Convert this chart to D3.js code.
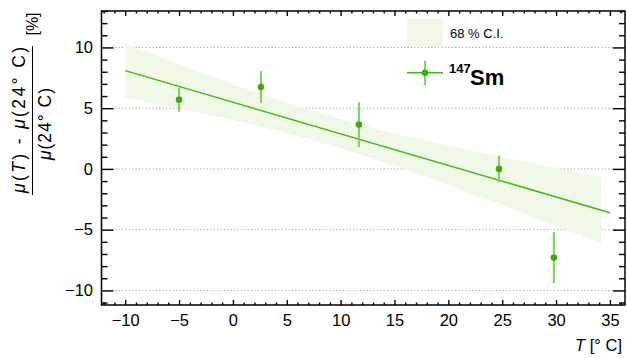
<!DOCTYPE html>
<html>
<head>
<meta charset="utf-8">
<script src="https://cdn.jsdelivr.net/npm/d3@7"></script>
<style>
  body { margin: 0; background: #fff; }
  svg { display: block; font-family: "Liberation Sans", Arial, sans-serif; }
</style>
</head>
<body>
<div class="plot"></div>
<script>
// measured points: temperature (deg C), relative shift (%), error (%)
const tempC = [-5.0, 2.6, 11.7, 24.7, 29.8];
const relShift = [5.7, 6.75, 3.65, 0.0, -7.3];
const relErr = [1.0, 1.3, 1.85, 1.1, 2.1];

// linear fit, end points
const fitX = [-10, 35];
const fitY = [8.09, -3.61];

// 68 % confidence band
const bandX = [-10, -5, 0, 5, 10, 15, 20, 25, 30, 34.2];
const bandLo = [5.88, 4.97, 4.01, 2.93, 1.69, 0.26, -1.32, -2.98, -4.69, -6.14];
const bandHi = [10.3, 8.61, 6.97, 5.45, 4.09, 2.92, 1.9, 0.96, 0.07, -0.66];

const xTickValues = [-10, -5, 0, 5, 10, 15, 20, 25, 30, 35];
const yTickValues = [-10, -5, 0, 5, 10];

const width = 627;
const height = 358;
const padL = 101.5, padR = 625, padT = 11, padB = 305;

const lineColor = "#46b814";
const pointColor = "#3aad0c";
const errColor = "#88d06a";
const bandColor = "#f0f9e7";
const fontSize = 16.5;

const svg = d3
  .select(".plot")
  .append("svg")
  .attr("width", width)
  .attr("height", height);

const x = d3.scaleLinear().domain([-12.2, 36.4]).range([padL, padR]);
const y = d3.scaleLinear().domain([-11.2, 13]).range([padB, padT]);

// dotted horizontal grid
svg
  .selectAll("line.grid")
  .data(yTickValues)
  .enter()
  .append("line")
  .attr("class", "grid")
  .attr("x1", padL)
  .attr("x2", padR)
  .attr("y1", (d) => y(d))
  .attr("y2", (d) => y(d))
  .attr("stroke", "#a0a0a0")
  .attr("stroke-width", 1)
  .attr("stroke-dasharray", "1.2,2.2");

// confidence band
const band = bandX.map((d, i) => ({ x: d, lo: bandLo[i], hi: bandHi[i] }));
svg
  .append("path")
  .datum(band)
  .attr("fill", bandColor)
  .attr("d", d3.area().x((d) => x(d.x)).y0((d) => y(d.lo)).y1((d) => y(d.hi)));

// fit line
svg
  .append("path")
  .datum(fitX.map((d, i) => [d, fitY[i]]))
  .attr("fill", "none")
  .attr("stroke", lineColor)
  .attr("stroke-width", 1.5)
  .attr("d", d3.line().x((d) => x(d[0])).y((d) => y(d[1])));

// data points with error bars
const pts = tempC.map((d, i) => ({ t: d, v: relShift[i], e: relErr[i] }));
svg
  .selectAll("line.err")
  .data(pts)
  .enter()
  .append("line")
  .attr("class", "err")
  .attr("x1", (d) => x(d.t))
  .attr("x2", (d) => x(d.t))
  .attr("y1", (d) => y(d.v - d.e))
  .attr("y2", (d) => y(d.v + d.e))
  .attr("stroke", errColor)
  .attr("stroke-width", 2.2);

svg
  .selectAll("circle.pt")
  .data(pts)
  .enter()
  .append("circle")
  .attr("class", "pt")
  .attr("cx", (d) => x(d.t))
  .attr("cy", (d) => y(d.v))
  .attr("r", 3.3)
  .attr("fill", pointColor);

// axes: major + minor ticks on all four sides, pointing inward
const xMinor = d3.range(-12, 37, 1).filter((d) => d % 5 !== 0);
const yMinor = d3.range(-11, 14, 1).filter((d) => d % 5 !== 0);

function addAxis(axis, tx, ty, labels) {
  const g = svg.append("g").attr("transform", `translate(${tx},${ty})`).call(axis);
  g.select(".domain").remove();
  g.selectAll(".tick line").attr("stroke", "#000").attr("stroke-width", 1.4);
  if (labels) {
    g.selectAll(".tick text").attr("font-size", fontSize).attr("fill", "#000")
      .attr("font-family", "Liberation Sans, Arial, sans-serif");
  } else {
    g.selectAll(".tick text").remove();
  }
  return g;
}

const fmt = (d) => (d < 0 ? "\u2212" + Math.abs(d) : String(d));

addAxis(d3.axisBottom(x).tickValues(xTickValues).tickSize(-5).tickSizeOuter(0).tickPadding(8.8).tickFormat(fmt), 0, padB, true);
addAxis(d3.axisBottom(x).tickValues(xMinor).tickSize(-2.5).tickSizeOuter(0), 0, padB, false);
addAxis(d3.axisTop(x).tickValues(xTickValues).tickSize(-5).tickSizeOuter(0), 0, padT, false);
addAxis(d3.axisTop(x).tickValues(xMinor).tickSize(-2.5).tickSizeOuter(0), 0, padT, false);

addAxis(d3.axisLeft(y).tickValues(yTickValues).tickSize(-12).tickSizeOuter(0).tickPadding(8.5).tickFormat(fmt), padL, 0, true);
addAxis(d3.axisLeft(y).tickValues(yMinor).tickSize(-6).tickSizeOuter(0), padL, 0, false);
addAxis(d3.axisRight(y).tickValues(yTickValues).tickSize(-12).tickSizeOuter(0), padR, 0, false);
addAxis(d3.axisRight(y).tickValues(yMinor).tickSize(-6).tickSizeOuter(0), padR, 0, false);

// frame
svg
  .append("rect")
  .attr("x", padL)
  .attr("y", padT)
  .attr("width", padR - padL)
  .attr("height", padB - padT)
  .attr("fill", "none")
  .attr("stroke", "#000")
  .attr("stroke-width", 1.5);

// x title
const xt = svg
  .append("text")
  .attr("x", padR - 3)
  .attr("y", 351)
  .attr("text-anchor", "end")
  .attr("font-size", fontSize);
xt.append("tspan").attr("font-style", "italic").text("T");
xt.append("tspan").text(" [\u00b0 C]");

// y title as a rotated fraction
const num = svg
  .append("text")
  .attr("transform", "translate(25,120) rotate(-90)")
  .attr("text-anchor", "middle")
  .attr("font-size", 17.5)
  .attr("textLength", 146)
  .attr("lengthAdjust", "spacing");
num.append("tspan").attr("font-style", "italic").text("\u03bc");
num.append("tspan").text("(");
num.append("tspan").attr("font-style", "italic").text("T");
num.append("tspan").text(") - ");
num.append("tspan").attr("font-style", "italic").text("\u03bc");
num.append("tspan").text("(24\u00b0 C)");

svg
  .append("line")
  .attr("x1", 32.5)
  .attr("x2", 32.5)
  .attr("y1", 46)
  .attr("y2", 195)
  .attr("stroke", "#000")
  .attr("stroke-width", 1);

const den = svg
  .append("text")
  .attr("transform", "translate(51,124) rotate(-90)")
  .attr("text-anchor", "middle")
  .attr("font-size", 17.5)
  .attr("textLength", 72)
  .attr("lengthAdjust", "spacing");
den.append("tspan").attr("font-style", "italic").text("\u03bc");
den.append("tspan").text("(24\u00b0 C)");

svg
  .append("text")
  .attr("transform", "translate(38,24) rotate(-90)")
  .attr("text-anchor", "middle")
  .attr("font-size", 16)
  .text("[%]");

// legend
svg.append("rect")
  .attr("x", 407).attr("y", 19).attr("width", 36).attr("height", 27)
  .attr("fill", bandColor);
svg.append("text")
  .attr("x", 450).attr("y", 38)
  .attr("font-size", 13)
  .text("68 % C.I.");

svg.append("line")
  .attr("x1", 407).attr("x2", 443).attr("y1", 72.7).attr("y2", 72.7)
  .attr("stroke", lineColor).attr("stroke-width", 1.5);
svg.append("line")
  .attr("x1", 425).attr("x2", 425).attr("y1", 60.7).attr("y2", 85.3)
  .attr("stroke", errColor).attr("stroke-width", 2.2);
svg.append("circle")
  .attr("cx", 425).attr("cy", 72.7).attr("r", 3.3)
  .attr("fill", pointColor);
svg.append("text")
  .attr("x", 449).attr("y", 73)
  .attr("font-size", 13).attr("font-weight", "bold")
  .text("147");
svg.append("text")
  .attr("x", 470).attr("y", 84.5)
  .attr("font-size", 22).attr("font-weight", "bold")
  .text("Sm");
</script>
</body>
</html>
